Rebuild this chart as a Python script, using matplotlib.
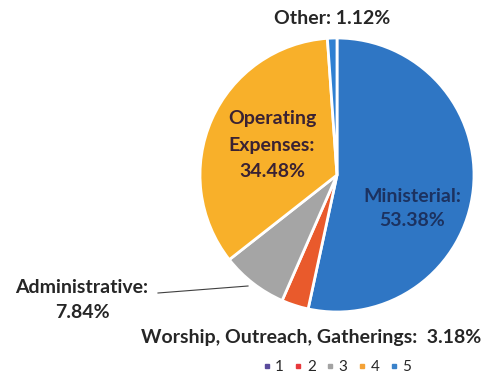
import matplotlib.pyplot as plt
from matplotlib.lines import Line2D

plt.rcParams['font.family'] = ['Lato', 'DejaVu Sans']

# slices, clockwise from 12 o'clock
labels = ['Ministerial', 'Worship, Outreach, Gatherings', 'Administrative',
          'Operating Expenses', 'Other']
shares = [53.38, 3.18, 7.84, 34.48, 1.12]
colors = ['#2F76C4', '#E95A2C', '#A5A5A5', '#F8B02A', '#2F80D2']

legend_names = ['1', '2', '3', '4', '5']
legend_colors = ['#5A4B9C', '#E8383C', '#A3A3A3', '#F4A236', '#3A82CA']

fig = plt.figure(figsize=(4.89, 3.79), dpi=100)
ax = fig.add_axes([0, 0, 1, 1])

cx, cy, r = 337, 175, 137
# y axis is flipped (pixel coords), so 270 deg is the top and ccw draws clockwise
ax.pie(shares, colors=colors, startangle=270, counterclock=True,
       center=(cx, cy), radius=r, frame=True,
       wedgeprops=dict(edgecolor='white', linewidth=2))
ax.set_xlim(0, 489)
ax.set_ylim(379, 0)
ax.set_aspect('auto')
ax.axis('off')

fs = 14
dark = '#262626'
ax.text(332, 18, 'Other: 1.12%', ha='center', va='center', fontsize=fs,
        fontweight='bold', color=dark)
ax.text(272, 145, 'Operating\nExpenses:\n34.48%', ha='center', va='center',
        fontsize=fs, fontweight='bold', color='#3A2233', linespacing=1.65)
ax.text(412, 208, 'Ministerial:\n53.38%', ha='center', va='center',
        fontsize=fs, fontweight='bold', color='#1C3260', linespacing=1.5)
ax.text(82, 300, 'Administrative:\n7.84%', ha='center', va='center',
        fontsize=fs, fontweight='bold', color=dark, linespacing=1.55)
ax.plot([158, 248], [293, 286], color='#404040', lw=0.8)
ax.text(311, 337, 'Worship, Outreach, Gatherings:  3.18%', ha='center',
        va='center', fontsize=fs, fontweight='bold', color=dark)

handles = [Line2D([], [], marker='s', linestyle='none', markersize=3.5,
                  markerfacecolor=c, markeredgecolor=c) for c in legend_colors]
fig.legend(handles, legend_names, loc='center', bbox_to_anchor=(337 / 489, 1 - 367 / 379),
           ncol=5, frameon=False, fontsize=11, handlelength=0.5, handletextpad=0.3,
           columnspacing=0.7, labelcolor=dark)

fig.savefig('out.png', dpi=100)
